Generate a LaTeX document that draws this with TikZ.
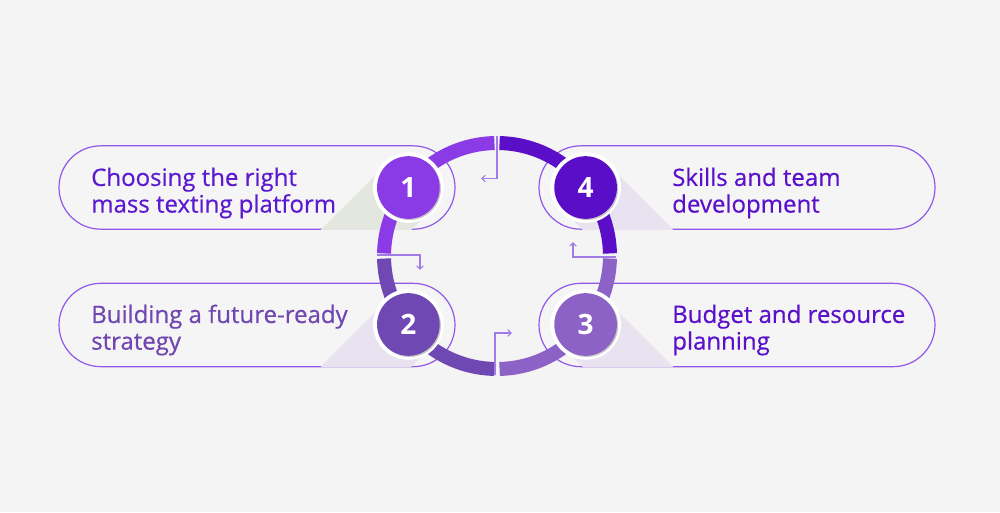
\documentclass[tikz,border=0pt]{standalone}
\usepackage{fontspec}
\setmainfont{Open Sans}
\newfontfamily\capfont{Open Sans}[FakeBold=0.5]
\usepackage{tikz}
\usetikzlibrary{arrows.meta,shapes.misc,calc}

\definecolor{paper}{HTML}{F4F4F4}
\definecolor{pillline}{HTML}{8E58E8}
\definecolor{flowline}{HTML}{A27CE6}
\definecolor{segA}{HTML}{8A3BE6}
\definecolor{segB}{HTML}{7048B3}
\definecolor{segC}{HTML}{8C62C6}
\definecolor{segD}{HTML}{5B0EC7}
\definecolor{txtA}{HTML}{5C1AD0}
\definecolor{txtB}{HTML}{7046B2}
\definecolor{txtC}{HTML}{5B10C9}
\definecolor{shadeG}{HTML}{E3E7DF}
\definecolor{shadeL}{HTML}{E9E3F1}

\tikzstyle{pill}=[rounded rectangle, draw=pillline, line width=0.9pt, fill=white, fill opacity=0.15, minimum width=297pt, minimum height=62.5pt, inner sep=0pt]
\tikzstyle{badge}=[circle, minimum size=47pt, inner sep=0pt, text=white, font=\fontsize{21}{21}\selectfont\bfseries,
  preaction={fill=white, draw=white, line width=6pt},
  preaction={fill=black, fill opacity=0.22, transform canvas={shift={(0.9pt,-0.9pt)}}}]
\tikzstyle{caption}=[anchor=west, align=left, inner sep=0pt, font=\capfont\fontsize{18}{20}\selectfont]
\tikzstyle{ringseg}=[line width=10.5pt, line cap=butt]
\tikzstyle{flow}=[draw=flowline, line width=0.8pt, -{Straight Barb[length=2.6pt,width=5pt]}]

\begin{document}
\begin{tikzpicture}[x=0.75pt, y=0.75pt]
        % page and paper
        \useasboundingbox (0,0) rectangle (1000,512);
        \fill[paper] (0,0) rectangle (1000,512);
        \coordinate (ctr) at (497,256);

        % the four pills
        \node[pill] (p1) at (257,324.5) {};
        \node[pill] (p2) at (257,187) {};
        \node[pill] (p3) at (737,187) {};
        \node[pill] (p4) at (737,324.5) {};

        % badge centres on the ring
        \coordinate (c1) at ($(ctr)+(142.3:112)$);
        \coordinate (c2) at ($(ctr)+(217.7:112)$);
        \coordinate (c3) at ($(ctr)+(-37.7:112)$);
        \coordinate (c4) at ($(ctr)+(37.7:112)$);

        % long shadows, kept inside the pills
        \begin{scope}
            \clip[rounded corners=31pt] (p1.west |- p1.south) rectangle (p1.east |- p1.north);
            \fill[shadeG] ($(c1)+(135:32)$) -- ++(225:220) -- ($(c1)+(315:32)+(225:220)$) -- ($(c1)+(315:32)$) -- cycle;
        \end{scope}
        \begin{scope}
            \clip[rounded corners=31pt] (p2.west |- p2.south) rectangle (p2.east |- p2.north);
            \fill[shadeL] ($(c2)+(135:32)$) -- ++(225:220) -- ($(c2)+(315:32)+(225:220)$) -- ($(c2)+(315:32)$) -- cycle;
        \end{scope}
        \begin{scope}
            \clip[rounded corners=31pt] (p3.west |- p3.south) rectangle (p3.east |- p3.north);
            \fill[shadeL] ($(c3)+(45:32)$) -- ++(315:220) -- ($(c3)+(225:32)+(315:220)$) -- ($(c3)+(225:32)$) -- cycle;
        \end{scope}
        \begin{scope}
            \clip[rounded corners=31pt] (p4.west |- p4.south) rectangle (p4.east |- p4.north);
            \fill[shadeL] ($(c4)+(45:32)$) -- ++(315:220) -- ($(c4)+(225:32)+(315:220)$) -- ($(c4)+(225:32)$) -- cycle;
        \end{scope}

        % ring, one arc per step
        \draw[ringseg, segA] ($(ctr)+(91.3:113)$) arc[start angle=91.3, end angle=178.7, radius=113];
        \draw[ringseg, segB] ($(ctr)+(181.3:113)$) arc[start angle=181.3, end angle=268.7, radius=113];
        \draw[ringseg, segC] ($(ctr)+(271.3:113)$) arc[start angle=271.3, end angle=358.7, radius=113];
        \draw[ringseg, segD] ($(ctr)+(1.3:113)$) arc[start angle=1.3, end angle=88.7, radius=113];

        % small arrows in the gaps
        \coordinate (g1) at (497,376);  \coordinate (h1) at (481,333.5);
        \coordinate (g2) at (377,257);  \coordinate (h2) at (420,242);
        \coordinate (g3) at (495,137);  \coordinate (h3) at (512,179);
        \coordinate (g4) at (616,255);  \coordinate (h4) at (573,270);
        \draw[flow] (g1) |- (h1);
        \draw[flow] (g2) -| (h2);
        \draw[flow] (g3) |- (h3);
        \draw[flow] (g4) -| (h4);

        % numbered badges
        \node[badge, fill=segA] (n1) at (c1) {1};
        \node[badge, fill=segB] (n2) at (c2) {2};
        \node[badge, fill=segC] (n3) at (c3) {3};
        \node[badge, fill=segD] (n4) at (c4) {4};

        % captions
        \node[caption, text=txtA] (t1) at (91,319) {Choosing the right\\mass texting platform};
        \node[caption, text=txtB] (t2) at (91,182) {Building a future-ready\\strategy};
        \node[caption, text=txtC] (t3) at (672,182) {Budget and resource\\planning};
        \node[caption, text=txtC] (t4) at (672,319) {Skills and team\\development};
\end{tikzpicture}
\end{document}
